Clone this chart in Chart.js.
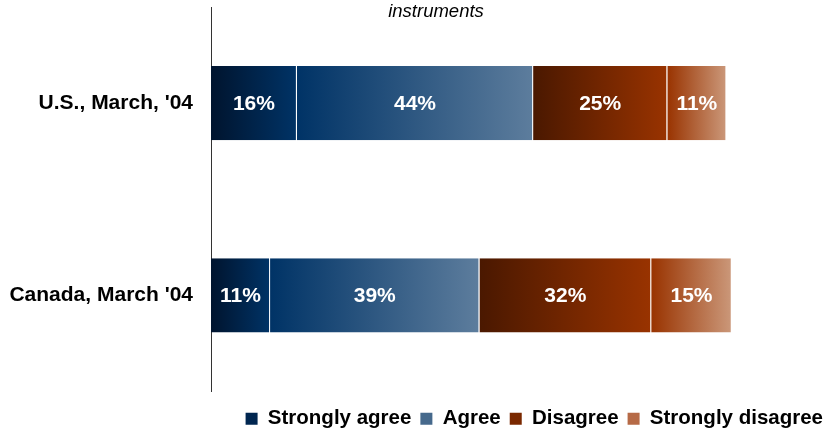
<!DOCTYPE html>
<html>
<head>
<meta charset="utf-8">
<script src="https://cdn.jsdelivr.net/npm/chart.js@4"></script>
<style>
  html, body { margin: 0; padding: 0; background: #fff; }
  #wrap { width: 823px; height: 431px; }
</style>
</head>
<body>
<div id="wrap"><canvas id="chart"></canvas></div>
<script>
const categories = ["U.S., March, '04", "Canada, March '04"];
const seriesNames = ['Strongly agree', 'Agree', 'Disagree', 'Strongly disagree'];
const stronglyAgree = [16, 11];
const agree = [44, 39];
const disagree = [25, 32];
const stronglyDisagree = [11, 15];
const titleText = 'instruments';

const values = [stronglyAgree, agree, disagree, stronglyDisagree];
// left -> right gradient stops for each segment
const grads = [
    ['#00142e', '#003366'],
    ['#003366', '#5d7d9d'],
    ['#4a1800', '#993300'],
    ['#993300', '#cb987a']
];
const legendColors = ['#002650', '#46698c', '#7a2800', '#b66a46'];
const FONT = '"Liberation Sans", Arial, sans-serif';

function segmentFill(ctx) {
    const chart = ctx.chart;
    const ds = ctx.datasetIndex;
    const i = ctx.dataIndex;
    const xs = chart.scales.x;
    if (i === undefined || !xs || !chart.chartArea) return legendColors[ds];
    let start = 0;
    for (let k = 0; k < ds; k++) start += values[k][i];
    const x0 = xs.getPixelForValue(start);
    const x1 = xs.getPixelForValue(start + values[ds][i]);
    const g = chart.ctx.createLinearGradient(x0, 0, x1, 0);
    g.addColorStop(0, grads[ds][0]);
    g.addColorStop(1, grads[ds][1]);
    return g;
}

const segmentLabels = {
    id: 'segmentLabels',
    afterDatasetsDraw(chart) {
        const c = chart.ctx;
        c.save();
        c.font = 'bold 21px ' + FONT;
        c.fillStyle = '#ffffff';
        c.textAlign = 'center';
        c.textBaseline = 'middle';
        chart.data.datasets.forEach((d, di) => {
            chart.getDatasetMeta(di).data.forEach((el, i) => {
                c.fillText(d.data[i] + '%', (el.x + el.base) / 2, el.y + 1);
            });
        });
        c.restore();
    }
};

const topTitle = {
    id: 'topTitle',
    afterDraw(chart) {
        const c = chart.ctx;
        c.save();
        c.font = 'italic 18.5px ' + FONT;
        c.fillStyle = '#000';
        c.textAlign = 'center';
        c.textBaseline = 'middle';
        c.fillText(titleText, 436, 12);
        c.restore();
    }
};

// nudge the legend a little lower / right, like the original
const legendShift = {
    id: 'legendShift',
    afterLayout(chart) {
        const lg = chart.legend;
        if (!lg) return;
        lg.top += 8; lg.bottom += 8;
        lg.left += 9; lg.right += 9;
    }
};

new Chart(document.getElementById('chart'), {
    type: 'bar',
    data: {
        labels: categories,
        datasets: seriesNames.map((name, k) => ({
            label: name,
            data: values[k],
            backgroundColor: segmentFill,
            borderColor: '#ffffff',
            borderWidth: { left: 0, top: 0, bottom: 0, right: 1 },
            borderSkipped: false,
            categoryPercentage: 1,
            barPercentage: 0.386
        }))
    },
    options: {
        indexAxis: 'y',
        responsive: true,
        maintainAspectRatio: false,
        animation: false,
        layout: { padding: { top: 7, left: 0, right: 0, bottom: 0 } },
        scales: {
            x: {
                stacked: true,
                min: 0,
                max: 114,
                display: false
            },
            y: {
                stacked: true,
                grid: { display: false, drawTicks: false },
                border: { display: true, color: '#333333', width: 1 },
                ticks: {
                    color: '#000',
                    padding: 18,
                    font: { family: FONT, size: 21, weight: 'bold' }
                },
                afterFit(scale) {
                    scale.width = 211;
                    scale.paddingTop = 0;
                    scale.paddingBottom = 0;
                }
            }
        },
        plugins: {
            legend: {
                position: 'bottom',
                align: 'end',
                labels: {
                    color: '#000',
                    boxWidth: 12,
                    boxHeight: 12,
                    padding: 9,
                    font: { family: FONT, size: 20.5, weight: 'bold' },
                    generateLabels(chart) {
                        return chart.data.datasets.map((d, k) => ({
                            text: d.label,
                            fillStyle: legendColors[k],
                            strokeStyle: legendColors[k],
                            lineWidth: 0,
                            datasetIndex: k
                        }));
                    }
                }
            },
            tooltip: { enabled: false }
        }
    },
    plugins: [segmentLabels, topTitle, legendShift]
});
</script>
</body>
</html>
